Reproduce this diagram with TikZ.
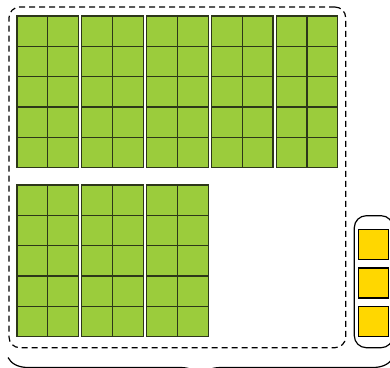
\documentclass[tikz,border=0pt]{standalone}
\usepackage{xcolor}
\usepackage{tikz}
\usetikzlibrary{decorations.pathreplacing}

\definecolor{leafgreen}{RGB}{155,204,60}
\definecolor{leafline}{RGB}{45,55,25}
\definecolor{coinyellow}{RGB}{255,215,0}

\begin{document}
\begin{tikzpicture}[
  x=0.75pt, y=-0.75pt,
  cell/.style={rectangle, draw=leafline, fill=leafgreen, line width=0.9pt,
    minimum width=23.1pt, minimum height=22.7pt, inner sep=0pt},
  coin/.style={rectangle, draw=black, fill=coinyellow, line width=0.9pt,
    minimum size=22.5pt, inner sep=0pt},
  frame/.style={rectangle, draw, dashed, dash pattern=on 4.5pt off 3pt,
    line width=0.9pt, rounded corners=8pt, inner sep=0pt},
  tray/.style={rectangle, draw, line width=0.9pt, rounded corners=9pt, inner sep=0pt}
]
\useasboundingbox (0,0) rectangle (390,368);
% dashed frame round the green blocks
\node[frame, minimum width=252.5pt, minimum height=255.5pt] (frame) at (177.35,177.35) {};
% upper row of blocks
\foreach \b in {0,...,4}
  \foreach \c in {0,1}
    \foreach \r in {0,...,4}
      \node[cell] (up-\b-\c-\r) at ({32.4+\b*64.8+\c*30.8},{31.15+\r*30.3}) {};
% lower row of blocks
\foreach \b in {0,1,2}
  \foreach \c in {0,1}
    \foreach \r in {0,...,4}
      \node[cell] (low-\b-\c-\r) at ({32.4+\b*64.8+\c*30.8},{200.15+\r*30.3}) {};
% yellow squares
\node[tray, minimum width=29.1pt, minimum height=99pt] (tray) at (373.7,281.7) {};
\foreach \i in {0,1,2}
  \node[coin] (coin-\i) at (373.7,{244.7+\i*38.3}) {};
% brace below
\coordinate (bl) at (8,357.5);
\coordinate (br) at (393,357.5);
\draw[line width=0.9pt, decorate, decoration={brace, mirror, amplitude=15pt}] (bl) -- (br);
\end{tikzpicture}
\end{document}
